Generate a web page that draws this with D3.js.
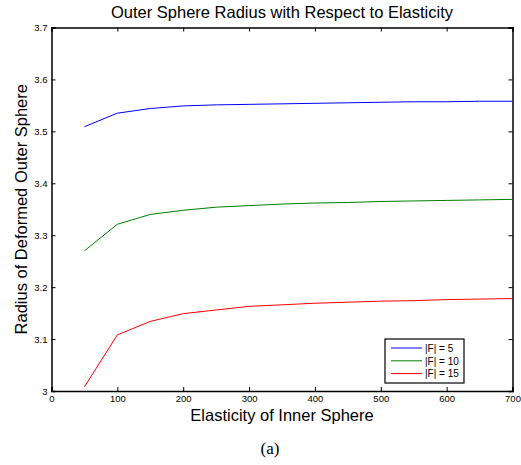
<!DOCTYPE html>
<html>
<head>
<meta charset="utf-8">
<script src="https://cdn.jsdelivr.net/npm/d3@7"></script>
<style>
  body { margin: 0; background: #fff; }
  text { font-family: "Liberation Sans", Arial, sans-serif; }
</style>
</head>
<body>
<svg width="521" height="465"></svg>
<script>
// data
let elasticity = [50, 100, 150, 200, 250, 300, 350, 400, 450, 500, 550, 600, 650, 700]
let radiusF5  = [3.509, 3.535, 3.544, 3.549, 3.551, 3.552, 3.553, 3.554, 3.555, 3.556, 3.557, 3.557, 3.558, 3.558]
let radiusF10 = [3.270, 3.321, 3.340, 3.348, 3.354, 3.357, 3.360, 3.362, 3.363, 3.365, 3.366, 3.367, 3.368, 3.369]
let radiusF15 = [3.008, 3.108, 3.134, 3.149, 3.156, 3.163, 3.166, 3.169, 3.171, 3.173, 3.174, 3.176, 3.177, 3.178]
let seriesNames = ['|F| = 5', '|F| = 10', '|F| = 15']
let xTicks = [0, 100, 200, 300, 400, 500, 600, 700]
let yTicks = [3, 3.1, 3.2, 3.3, 3.4, 3.5, 3.6, 3.7]

let series = [radiusF5, radiusF10, radiusF15]
let colors = ['#0000ff', '#008000', '#ff0000']

// plot box
let pLeft = 51.5, pRight = 512.5, pTop = 27.5, pBottom = 391
let svg = d3.select('svg')

let x = d3.scaleLinear().domain([0, 700]).range([pLeft, pRight])
let y = d3.scaleLinear().domain([3, 3.7]).range([pBottom, pTop])

// axes (inward ticks, box)
let g = svg.append('g')
g.append('g').attr('transform', `translate(0,${pBottom})`)
  .call(d3.axisBottom(x).tickValues(xTicks).tickSize(-4).tickPadding(4.5).tickFormat(d3.format('d')))
g.append('g').attr('transform', `translate(0,${pTop})`)
  .call(d3.axisTop(x).tickValues(xTicks).tickSize(-4).tickFormat(''))
g.append('g').attr('transform', `translate(${pLeft},0)`)
  .call(d3.axisLeft(y).tickValues(yTicks).tickSize(-4).tickPadding(4).tickFormat(d => d3.format('.1f')(d).replace(/\.0$/, '')))
g.append('g').attr('transform', `translate(${pRight},0)`)
  .call(d3.axisRight(y).tickValues(yTicks).tickSize(-4).tickFormat(''))
g.selectAll('.domain').attr('stroke', '#000').attr('stroke-width', 1.5)
g.selectAll('.tick line').attr('stroke', '#000')
g.selectAll('.tick text').attr('font-size', 9.5).attr('fill', '#000')

// lines
let line = d3.line().x((d, i) => x(elasticity[i])).y(d => y(d))
svg.selectAll('path.series')
  .data(series)
  .enter()
  .append('path')
  .attr('class', 'series')
  .attr('d', line)
  .attr('fill', 'none')
  .attr('stroke', (d, i) => colors[i])
  .attr('stroke-width', 1)

// titles
svg.append('text').attr('x', (pLeft + pRight) / 2).attr('y', 18)
  .attr('text-anchor', 'middle').attr('font-size', 16.5).text('Outer Sphere Radius with Respect to Elasticity')
svg.append('text').attr('x', (pLeft + pRight) / 2).attr('y', 421)
  .attr('text-anchor', 'middle').attr('font-size', 16.5).text('Elasticity of Inner Sphere')
svg.append('text').attr('transform', `translate(27,${(pTop + pBottom) / 2}) rotate(-90)`)
  .attr('text-anchor', 'middle').attr('font-size', 16.5).text('Radius of Deformed Outer Sphere')
svg.append('text').attr('x', 270).attr('y', 454)
  .attr('text-anchor', 'middle').attr('font-size', 17)
  .style('font-family', '"Liberation Serif", "Times New Roman", serif').text('(a)')

// legend
let lg = svg.append('g').attr('transform', 'translate(385,339)')
lg.append('rect').attr('width', 79).attr('height', 44).attr('fill', '#fff')
  .attr('stroke', '#000').attr('stroke-width', 1.2)
let items = lg.selectAll('g.item').data(seriesNames).enter().append('g')
  .attr('class', 'item').attr('transform', (d, i) => `translate(0,${9 + i * 12.8})`)
items.append('line').attr('x1', 6).attr('x2', 37)
  .attr('stroke', (d, i) => colors[i]).attr('stroke-width', 1)
items.append('text').attr('x', 40).attr('y', 3.8).attr('font-size', 10).text(d => d)
</script>
</body>
</html>
